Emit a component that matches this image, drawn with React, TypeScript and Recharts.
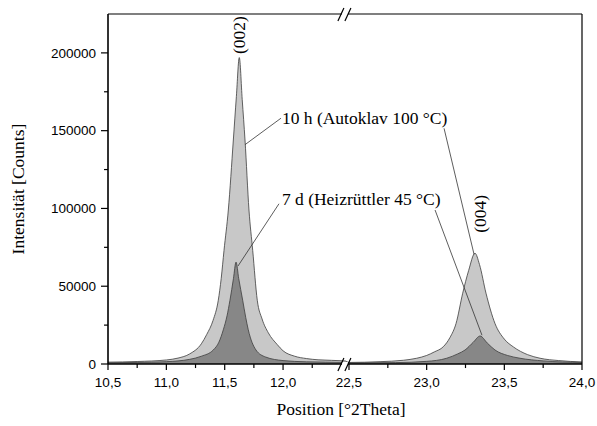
import * as React from 'react';
import {
  AreaChart,
  Area,
  XAxis,
  YAxis,
  Label,
  ReferenceLine,
  ReferenceDot,
} from 'recharts';

// [°2Theta, counts]
const autoklav002: Array<[number, number]> = [
  [10.5, 1200], [10.75, 1600], [11.0, 2600], [11.1, 3800], [11.2, 6500], [11.3, 13000],
  [11.346, 19000], [11.4, 28000], [11.445, 41000], [11.47, 55000], [11.494, 73000],
  [11.531, 99000], [11.574, 144000], [11.6, 172000], [11.625, 197000], [11.65, 170000],
  [11.674, 144000], [11.708, 99000], [11.74, 73000], [11.779, 41000], [11.82, 29000],
  [11.874, 20000], [11.95, 12500], [12.0, 8500], [12.1, 5000], [12.2, 3500],
  [12.3, 2700], [12.53, 2000],
];
const autoklav004: Array<[number, number]> = [
  [22.5, 1000], [22.7, 1500], [22.85, 2400], [22.936, 3700], [23.0, 5500], [23.05, 7800],
  [23.107, 11100], [23.15, 17000], [23.189, 26000], [23.232, 45500], [23.27, 60000],
  [23.311, 71200], [23.34, 64000], [23.382, 45500], [23.44, 26000], [23.5, 16000],
  [23.558, 11000], [23.65, 6000], [23.73, 3700], [23.85, 2200], [24.0, 1300],
];
const heizruettler002: Array<[number, number]> = [
  [10.5, 800], [10.75, 1000], [11.0, 1500], [11.2, 3000], [11.3, 5000], [11.402, 9000],
  [11.45, 14000], [11.488, 22000], [11.52, 31000], [11.545, 41000], [11.575, 55000],
  [11.597, 65500], [11.62, 55000], [11.654, 41000], [11.68, 30000], [11.702, 22000],
  [11.768, 9000], [11.85, 4500], [12.0, 2200], [12.2, 1400], [12.53, 1000],
];
const heizruettler004: Array<[number, number]> = [
  [22.5, 700], [22.8, 900], [23.0, 1700], [23.129, 3700], [23.2, 6500], [23.247, 9000],
  [23.3, 14000], [23.344, 18000], [23.39, 13500], [23.44, 9000], [23.52, 5500],
  [23.601, 3700], [23.75, 2000], [24.0, 1000],
];

const xTicks = [10.5, 10.75, 11.0, 11.25, 11.5, 11.75, 12.0, 12.25, 22.5, 22.75, 23.0, 23.25, 23.5, 23.75, 24.0];
const yTicks = [0, 25000, 50000, 75000, 100000, 125000, 150000, 175000, 200000];

// broken x axis: 10,5–12,53 | 22,5–24,0
const LEFT_START = 10.5;
const LEFT_END = 12.53;
const RIGHT_START = 22.5;
const GAP = 0.035;
const RIGHT_SCALE = 1.331;

function toU(x: number) {
  if (x < 17) return x - LEFT_START;
  return LEFT_END - LEFT_START + GAP + (x - RIGHT_START) * RIGHT_SCALE;
}

const U_MAX = toU(24.0);
const Y_MAX = 225000;
const BREAK_U = LEFT_END - LEFT_START;

// tick mark lengths in data units (~7/4 px horizontally, ~6/4 px vertically)
const Y_TICK_MAJOR = 0.06;
const Y_TICK_MINOR = 0.034;
const X_TICK_MAJOR = 3900;
const X_TICK_MINOR = 2600;

const SERIF = '"Liberation Serif", "Times New Roman", serif';
const SANS = '"Liberation Sans", Arial, sans-serif';
const SERIF_SIZE = 17.5;

const toRows = (pts: Array<[number, number]>) => pts.map(([x, v]) => ({ u: toU(x), v }));
const autoklavRows = toRows([...autoklav002, ...autoklav004]);
const heizRows = toRows([...heizruettler002, ...heizruettler004]);

const isMajorX = (val: number) => Math.abs(val * 2 - Math.round(val * 2)) < 1e-6;
const isMajorY = (val: number) => val % 50000 === 0;

const leaders: Array<[number, number, number, number]> = [
  [11.982, 158000, 11.674, 141000],
  [11.965, 103000, 11.614, 63000],
  [23.112, 151500, 23.305, 70500],
  [23.054, 99000, 23.356, 18500],
];

// plot frame, as [u1, v1, u2, v2]
const frame: Array<[number, number, number, number]> = [
  [0, 0, U_MAX, 0],
  [0, Y_MAX, U_MAX, Y_MAX],
  [0, 0, 0, Y_MAX],
  [U_MAX, 0, U_MAX, Y_MAX],
];

const texts = [
  { text: '10 h (Autoklav 100 °C)', x: 11.99, y: 154000 },
  { text: '7 d (Heizrüttler 45 °C)', x: 11.99, y: 102000 },
];
const peakNames = [
  { text: '(002)', x: 11.623, y: 211500 },
  { text: '(004)', x: 23.343, y: 96500 },
];

function YTick(props: any) {
  const x = Number(props.x);
  const y = Number(props.y);
  if (!isMajorY(props.payload.value)) return <g />;
  return (
    <text x={x - 12} y={y} dy="0.35em" textAnchor="end" fontFamily={SANS} fontSize={13.5} fill="#000">
      {props.payload.value}
    </text>
  );
}

function XTick(props: any) {
  const x = Number(props.x);
  const y = Number(props.y);
  const val = xTicks[props.index];
  if (!isMajorX(val)) return <g />;
  return (
    <text x={x} y={y + 23} textAnchor="middle" fontFamily={SANS} fontSize={13.5} fill="#000">
      {val.toFixed(1).replace('.', ',')}
    </text>
  );
}

function BreakMark(props: any) {
  const { cx, cy } = props;
  return (
    <g>
      <rect x={cx - 3} y={cy - 2} width={6} height={4} fill="#fff" />
      <line x1={cx - 7} y1={cy + 7} x2={cx - 1} y2={cy - 6} stroke="#000" strokeWidth={1.2} />
      <line x1={cx} y1={cy + 7} x2={cx + 6} y2={cy - 6} stroke="#000" strokeWidth={1.2} />
    </g>
  );
}

export default function App() {
  return (
    <div style={{ position: 'absolute', left: 0, top: 0 }}>
      <AreaChart width={597} height={426} margin={{ top: 14, right: 15, bottom: 32, left: 40 }}>
        <Area
          data={autoklavRows}
          dataKey="v"
          type="monotone"
          baseValue={0}
          fill="#c8c8c8"
          fillOpacity={1}
          stroke="#3c3c3c"
          strokeWidth={0.8}
          isAnimationActive={false}
        />
        <Area
          data={heizRows}
          dataKey="v"
          type="monotone"
          baseValue={0}
          fill="#878787"
          fillOpacity={1}
          stroke="#3c3c3c"
          strokeWidth={0.8}
          isAnimationActive={false}
        />
        <XAxis
          dataKey="u"
          type="number"
          domain={[0, U_MAX]}
          allowDataOverflow
          ticks={xTicks.map(toU)}
          interval={0}
          tick={<XTick />}
          tickLine={false}
          tickSize={0}
          tickMargin={0}
          height={30}
          stroke="#000"
        >
          <Label
            content={({ viewBox }: any) => (
              <text
                x={viewBox.x + viewBox.width / 2 - 4}
                y={viewBox.y + 51}
                textAnchor="middle"
                fontFamily={SERIF}
                fontSize={SERIF_SIZE}
                fill="#000"
              >
                Position [°2Theta]
              </text>
            )}
          />
        </XAxis>
        <YAxis
          type="number"
          domain={[0, Y_MAX]}
          allowDataOverflow
          ticks={yTicks}
          interval={0}
          tick={<YTick />}
          tickLine={false}
          tickSize={0}
          tickMargin={0}
          width={68}
          stroke="#000"
        >
          <Label
            content={({ viewBox }: any) => {
              const cx = viewBox.x - 22;
              const cy = viewBox.y + viewBox.height / 2;
              return (
                <text
                  x={cx}
                  y={cy}
                  transform={`rotate(-90 ${cx} ${cy})`}
                  textAnchor="middle"
                  dy="0.35em"
                  fontFamily={SERIF}
                  fontSize={SERIF_SIZE}
                  fill="#000"
                >
                  Intensität [Counts]
                </text>
              );
            }}
          />
        </YAxis>

        {frame.map(([u1, v1, u2, v2], i) => (
          <ReferenceLine
            key={`f${i}`}
            segment={[{ x: u1, y: v1 }, { x: u2, y: v2 }]}
            stroke="#000"
            strokeWidth={1.2}
            ifOverflow="visible"
          />
        ))}
        {yTicks.map((v) => (
          <ReferenceLine
            key={`yt${v}`}
            segment={[{ x: -(isMajorY(v) ? Y_TICK_MAJOR : Y_TICK_MINOR), y: v }, { x: 0, y: v }]}
            stroke="#000"
            strokeWidth={1.2}
            ifOverflow="visible"
          />
        ))}
        {xTicks.map((t) => (
          <ReferenceLine
            key={`xt${t}`}
            segment={[{ x: toU(t), y: 0 }, { x: toU(t), y: -(isMajorX(t) ? X_TICK_MAJOR : X_TICK_MINOR) }]}
            stroke="#000"
            strokeWidth={1.2}
            ifOverflow="visible"
          />
        ))}
        {leaders.map(([x1, y1, x2, y2], i) => (
          <ReferenceLine
            key={i}
            segment={[{ x: toU(x1), y: y1 }, { x: toU(x2), y: y2 }]}
            stroke="#333"
            strokeWidth={0.8}
            ifOverflow="visible"
          />
        ))}
        {texts.map((t) => (
          <ReferenceDot
            key={t.text}
            x={toU(t.x)}
            y={t.y}
            ifOverflow="visible"
            shape={(p: any) => (
              <text x={p.cx} y={p.cy} fontFamily={SERIF} fontSize={SERIF_SIZE} fill="#000">
                {t.text}
              </text>
            )}
          />
        ))}
        {peakNames.map((t) => (
          <ReferenceDot
            key={t.text}
            x={toU(t.x)}
            y={t.y}
            ifOverflow="visible"
            shape={(p: any) => (
              <text
                x={p.cx}
                y={p.cy}
                dy="0.35em"
                transform={`rotate(-90 ${p.cx} ${p.cy})`}
                textAnchor="middle"
                fontFamily={SERIF}
                fontSize={SERIF_SIZE}
                fill="#000"
              >
                {t.text}
              </text>
            )}
          />
        ))}
        <ReferenceDot x={BREAK_U} y={0} ifOverflow="visible" shape={<BreakMark />} />
        <ReferenceDot x={BREAK_U} y={Y_MAX} ifOverflow="visible" shape={<BreakMark />} />
      </AreaChart>
    </div>
  );
}
